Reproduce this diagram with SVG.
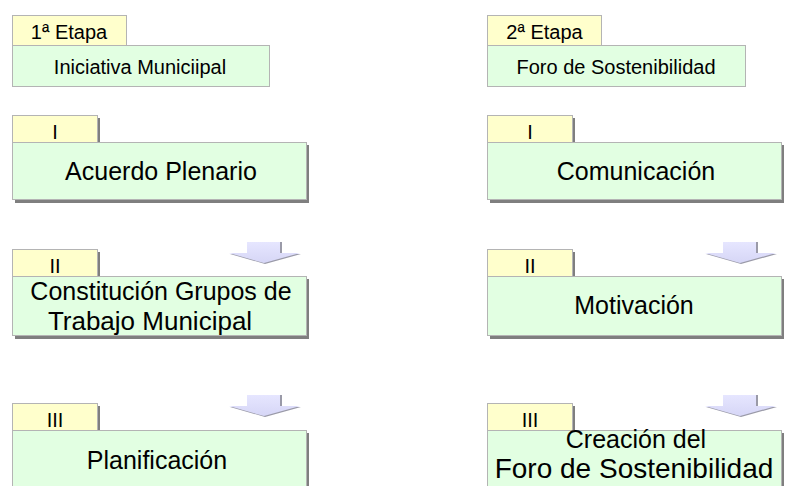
<svg xmlns="http://www.w3.org/2000/svg" width="786" height="486" viewBox="0 0 786 486">
<defs>
<style>
text{font-family:"Liberation Sans",Arial,sans-serif;fill:#000;text-anchor:middle}
.tab{fill:#FFFFCC;stroke:#B4B4B4;stroke-width:1}
.box{fill:#E2FFE2;stroke:#B4B4B4;stroke-width:1}
.shd{fill:#7F7F7F}
.sm{font-size:20px}
.tl{font-size:20px}
.bg{font-size:25px}
.arr{fill:url(#ag);stroke:none}
.arrs{fill:#9A9AA8}
</style>
<linearGradient id="ag" x1="0" y1="0" x2="0" y2="1">
<stop offset="0" stop-color="#E6E6FF"/>
<stop offset="1" stop-color="#D6D6F6"/>
</linearGradient>
<symbol id="arrow" overflow="visible">
<polygon class="arrs" points="19,0 53,0 53,12 72,12 36,22 1,12 19,12"/>
<polygon class="arr" points="18,0 51,0 51,11 71,11 35,21 0,11 18,11"/>
</symbol>
</defs>
<g id="connectors">
<use href="#arrow" x="229" y="242"/>
<use href="#arrow" x="229" y="395"/>
<use href="#arrow" x="705" y="242"/>
<use href="#arrow" x="705" y="395"/>
</g>
<g id="etapa1">
<rect class="tab" x="12.5" y="15.5" width="114" height="30"/>
<text class="sm" x="69" y="39">1ª Etapa</text>
<rect class="box" x="12.5" y="45.5" width="257" height="41"/>
<text class="sm" x="140" y="74">Iniciativa Municiipal</text>
</g>
<g id="etapa2">
<rect class="tab" x="487.5" y="15.5" width="114" height="30"/>
<text class="sm" x="544.5" y="39">2ª Etapa</text>
<rect class="box" x="487.5" y="45.5" width="258" height="41"/>
<text class="sm" x="616" y="74">Foro de Sostenibilidad</text>
</g>
<g id="l1">
<rect class="shd" x="15" y="118" width="85" height="27"/>
<rect class="tab" x="12.5" y="115.5" width="85" height="27"/>
<text class="tl" x="55" y="139">I</text>
<rect class="shd" x="15" y="145" width="294" height="58"/>
<rect class="box" x="12.5" y="142.5" width="294" height="57"/>
<text class="bg" x="161" y="180">Acuerdo Plenario</text>
</g>
<g id="l2">
<rect class="shd" x="15" y="252" width="85" height="27"/>
<rect class="tab" x="12.5" y="249.5" width="85" height="27"/>
<text class="tl" x="55" y="273">II</text>
<rect class="shd" x="15" y="279" width="294" height="60"/>
<rect class="box" x="12.5" y="276.5" width="294" height="59"/>
<text class="bg" x="161" y="300">Constitución Grupos de</text>
<text class="bg" x="150" y="330" style="font-size:26px">Trabajo Municipal</text>
</g>
<g id="l3">
<rect class="shd" x="15" y="406" width="85" height="27"/>
<rect class="tab" x="12.5" y="403.5" width="85" height="27"/>
<text class="tl" x="55" y="427">III</text>
<rect class="shd" x="15" y="433" width="294" height="80"/>
<rect class="box" x="12.5" y="430.5" width="294" height="80"/>
<text class="bg" x="157" y="469">Planificación</text>
</g>
<g id="r1">
<rect class="shd" x="490" y="118" width="85" height="27"/>
<rect class="tab" x="487.5" y="115.5" width="85" height="27"/>
<text class="tl" x="530" y="139">I</text>
<rect class="shd" x="490" y="145" width="294" height="58"/>
<rect class="box" x="487.5" y="142.5" width="294" height="57"/>
<text class="bg" x="636" y="180">Comunicación</text>
</g>
<g id="r2">
<rect class="shd" x="490" y="252" width="85" height="27"/>
<rect class="tab" x="487.5" y="249.5" width="85" height="27"/>
<text class="tl" x="530" y="273">II</text>
<rect class="shd" x="490" y="279" width="294" height="60"/>
<rect class="box" x="487.5" y="276.5" width="294" height="59"/>
<text class="bg" x="634" y="314">Motivación</text>
</g>
<g id="r3">
<rect class="shd" x="490" y="406" width="85" height="27"/>
<rect class="tab" x="487.5" y="403.5" width="85" height="27"/>
<text class="tl" x="530" y="427">III</text>
<rect class="shd" x="490" y="433" width="294" height="80"/>
<rect class="box" x="487.5" y="430.5" width="294" height="80"/>
<text class="bg" x="636" y="448">Creación del</text>
<text class="bg" x="634" y="478" style="font-size:28px">Foro de Sostenibilidad</text>
</g>
</svg>
